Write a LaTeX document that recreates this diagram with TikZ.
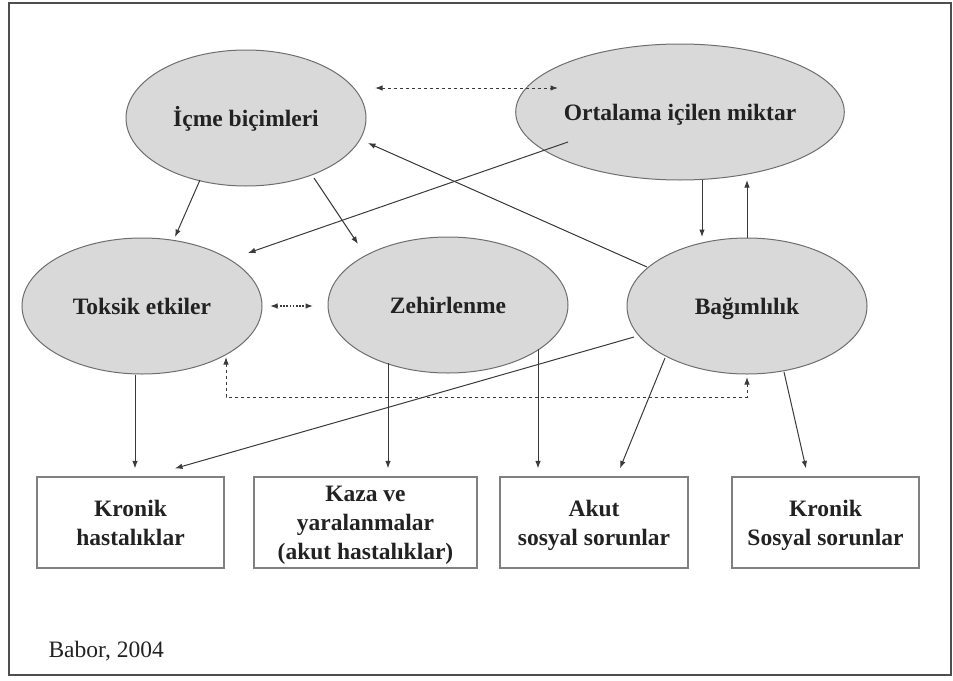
\documentclass[tikz,border=0pt]{standalone}
\usepackage{fontspec}
\setmainfont{Liberation Serif}
\usetikzlibrary{shapes.geometric,arrows.meta,calc}
\definecolor{ellfill}{HTML}{D9D9D9}
\definecolor{elldraw}{HTML}{6E6E6E}
\definecolor{linec}{HTML}{3A3A3A}
\definecolor{boxdraw}{HTML}{808080}
\definecolor{txt}{HTML}{222222}
\begin{document}
\begin{tikzpicture}[x=1pt,y=-1pt,
  ell/.style={ellipse,draw=elldraw,fill=ellfill,line width=1pt,minimum width=240pt,minimum height=136pt,inner sep=0pt,
    text height=21pt,text depth=5pt,font=\fontsize{23.5}{29}\selectfont\bfseries,text=txt},
  outbox/.style={rectangle,draw=boxdraw,line width=1.2pt,minimum height=91pt,inner sep=0pt,align=center,
    text depth=0pt,font=\fontsize{23.5}{29}\selectfont\bfseries,text=txt},
  arr/.style={draw=linec,line width=1pt,-{Latex[length=7.5pt,width=5.5pt]}},
  darr/.style={draw=linec,line width=1pt,dashed,{Latex[length=7.5pt,width=5.5pt]}-{Latex[length=7.5pt,width=5.5pt]}},
  dotarr/.style={draw=linec,line width=1.4pt,dash pattern=on 1.6pt off 1.6pt,{Latex[length=7.5pt,width=5.5pt]}-{Latex[length=7.5pt,width=5.5pt]}}]
\useasboundingbox (0,0) rectangle (953,680);
\draw[draw=linec!90,line width=2pt] (9,3) rectangle (951,675);

% ellipses
\node[ell] (icme) at (246,118) {İçme biçimleri};
\node[ell] (ort) at (680,112) {Ortalama içilen miktar};
\node[ell] (toksik) at (142,306) {Toksik etkiler};
\node[ell] (zehir) at (448,305) {Zehirlenme};
\node[ell] (bag) at (747,306) {Bağımlılık};

% boxes
\node[outbox,minimum width=187pt] (b1) at (130.5,522.5) {Kronik\\hastalıklar};
\node[outbox,minimum width=223pt] (b2) at (365.5,522.5) {Kaza ve\\yaralanmalar\\(akut hastalıklar)};
\node[outbox,minimum width=188pt] (b3) at (594,522.5) {Akut\\sosyal sorunlar};
\node[outbox,minimum width=187pt] (b4) at (825.5,522.5) {Kronik\\Sosyal sorunlar};

\node[anchor=base west,font=\fontsize{23.5}{29}\selectfont,text=txt] (src) at (45,657) {Babor, 2004};

% connectors
\draw[darr] ($(icme)+(129,-30)$) -- ($(ort)+(-122,-24)$);
\draw[arr] ($(icme)+(-46,62)$) -- ($(toksik)+(33,-69)$);
\draw[arr] ($(icme)+(68,60)$) -- ($(zehir)+(-90,-61)$);
\draw[arr] ($(ort)+(-112,30)$) -- ($(toksik)+(106,-53)$);
\draw[arr] ($(bag)+(-100,-39)$) -- ($(icme)+(122,25)$);
\draw[arr] ($(ort)+(22,68)$) -- ($(bag)+(-45,-69)$);
\draw[arr] ($(bag)+(0,-68)$) -- ($(ort)+(67,68)$);
\draw[dotarr] ($(toksik)+(128,0)$) -- ($(zehir)+(-135,1)$);
\draw[darr] ($(toksik)+(84,51)$) -- ++(0,40) -| ($(bag)+(0,71)$);
\draw[arr] ($(toksik.south)+(-7,0)$) -- ($(b1.north)+(4.5,-8)$);
\draw[arr] ($(bag)+(-113,31)$) -- ($(b1.north)+(44.5,-8)$);
\draw[arr] ($(zehir)+(-60,58)$) -- ($(b2.north)+(22.5,-8)$);
\draw[arr] ($(zehir)+(90,44)$) -- ($(b3.north)+(-56,-8)$);
\draw[arr] ($(bag)+(-82,52)$) -- ($(b3.north)+(26,-8)$);
\draw[arr] ($(bag)+(37,66)$) -- ($(b4.north)+(-19.5,-8)$);
\end{tikzpicture}
\end{document}
